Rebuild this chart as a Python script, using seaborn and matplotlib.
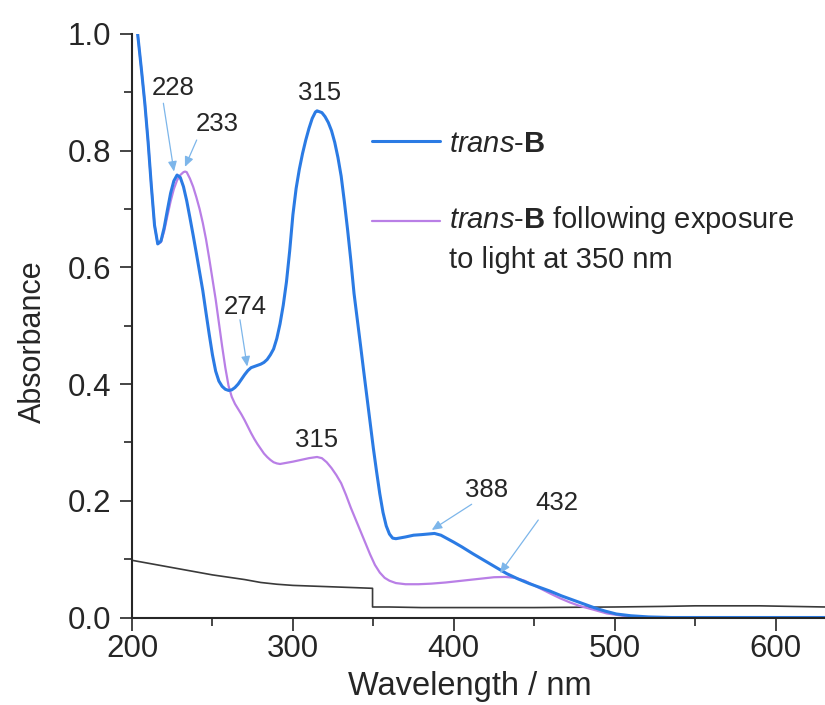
import numpy as np
import pandas as pd
import matplotlib
matplotlib.use("Agg")
import matplotlib.pyplot as plt
from matplotlib.ticker import MultipleLocator, FormatStrFormatter
from matplotlib.legend_handler import HandlerLine2D
import seaborn as sns

# ---- spectra (wavelength in nm, absorbance) ----
trans_wl = [203.5, 206, 208, 210, 212, 214, 216, 218, 220, 222, 224, 226, 228, 230, 232, 234,
            236, 238, 240, 242, 244, 246, 248, 250, 252, 254, 256, 258, 260, 262, 264, 266,
            268, 270, 272, 274, 276, 278, 280, 282, 284, 286, 288, 290, 292, 294, 296, 298,
            300, 302, 304, 306, 308, 310, 312, 314, 315, 316, 318, 320, 322, 324, 326, 328,
            330, 332, 334, 336, 338, 340, 342, 344, 346, 348, 350, 352, 354, 356, 358, 360,
            362, 364, 366, 370, 375, 380, 384, 388, 392, 396, 400, 405, 412, 420, 428, 433,
            440, 447, 453, 460, 467, 474, 480, 487, 494, 501, 510, 521, 535, 560, 600, 631]
trans_abs = [1.000, 0.935, 0.880, 0.815, 0.740, 0.672, 0.640, 0.645, 0.668, 0.698, 0.727, 0.748,
             0.758, 0.754, 0.738, 0.714, 0.685, 0.655, 0.624, 0.592, 0.560, 0.522, 0.485, 0.450,
             0.422, 0.405, 0.396, 0.391, 0.389, 0.390, 0.394, 0.400, 0.408, 0.416, 0.423, 0.428,
             0.430, 0.432, 0.434, 0.437, 0.442, 0.450, 0.460, 0.478, 0.503, 0.535, 0.575, 0.628,
             0.690, 0.735, 0.768, 0.795, 0.818, 0.838, 0.855, 0.866, 0.868, 0.867, 0.865, 0.858,
             0.848, 0.834, 0.814, 0.788, 0.756, 0.712, 0.664, 0.612, 0.555, 0.511, 0.467, 0.422,
             0.378, 0.334, 0.290, 0.250, 0.212, 0.180, 0.157, 0.143, 0.136, 0.135, 0.136, 0.138,
             0.141, 0.142, 0.143, 0.144, 0.141, 0.135, 0.129, 0.121, 0.109, 0.096, 0.083, 0.075,
             0.066, 0.058, 0.052, 0.045, 0.037, 0.030, 0.024, 0.017, 0.011, 0.006, 0.003, 0.001,
             0.000, 0.000, 0.000, 0.000]

irr_wl = [203.5, 206, 208, 210, 212, 214, 216, 218, 220, 222, 224, 226, 228, 230, 232, 233,
          234, 236, 238, 240, 242, 244, 246, 248, 250, 252, 254, 256, 258, 260, 262, 264,
          266, 268, 270, 272, 274, 276, 278, 280, 282, 284, 286, 288, 290, 292, 294, 296,
          300, 305, 310, 315, 318, 321, 324, 327, 330, 333, 336, 339, 342, 345, 348, 351,
          354, 357, 360, 364, 370, 378, 386, 395, 405, 415, 425, 432, 438, 444, 450, 455,
          460, 466, 472, 478, 486, 495, 505, 520, 560, 631]
irr_abs = [1.000, 0.935, 0.880, 0.815, 0.740, 0.672, 0.640, 0.643, 0.662, 0.688, 0.713, 0.734,
           0.749, 0.758, 0.763, 0.764, 0.763, 0.752, 0.738, 0.720, 0.700, 0.676, 0.648, 0.615,
           0.580, 0.545, 0.505, 0.465, 0.428, 0.397, 0.378, 0.366, 0.357, 0.348, 0.338, 0.327,
           0.316, 0.306, 0.297, 0.289, 0.281, 0.275, 0.270, 0.266, 0.264, 0.263, 0.264, 0.265,
           0.267, 0.270, 0.273, 0.275, 0.273, 0.266, 0.256, 0.244, 0.230, 0.210, 0.188, 0.168,
           0.148, 0.128, 0.108, 0.090, 0.077, 0.068, 0.063, 0.059, 0.057, 0.057, 0.058, 0.060,
           0.063, 0.066, 0.069, 0.0695, 0.068, 0.063, 0.055, 0.048, 0.041, 0.033, 0.026, 0.020,
           0.014, 0.007, 0.003, 0.000, 0.000, 0.000]

blank_wl = [200, 210, 220, 230, 240, 250, 260, 270, 280, 290, 300, 310, 320, 330, 340, 349.5,
            349.5, 360, 380, 400, 450, 500, 530, 550, 570, 590, 610, 631]
blank_abs = [0.098, 0.093, 0.088, 0.083, 0.078, 0.073, 0.069, 0.065, 0.060, 0.057, 0.055, 0.054,
             0.053, 0.052, 0.051, 0.050, 0.018, 0.018, 0.017, 0.017, 0.017, 0.018, 0.019, 0.020,
             0.020, 0.020, 0.019, 0.018]

trans_peaks = [228, 274, 315, 388]
irr_peaks = [233, 315, 432]

legend_labels = [r"$\mathit{trans}$-$\mathbf{B}$",
                 r"$\mathit{trans}$-$\mathbf{B}$ following exposure" + "\nto light at 350 nm"]

BLUE = "#2b7be4"
PURPLE = "#b97fe6"
GREY = "#3a3a3a"
ARROW = "#7db6ea"
INK = "#262626"

sns.set_style("ticks")
plt.rcParams["font.family"] = ["Liberation Sans", "DejaVu Sans"]
plt.rcParams["mathtext.fontset"] = "custom"
plt.rcParams["mathtext.rm"] = "Liberation Sans"
plt.rcParams["mathtext.it"] = "Liberation Sans:italic"
plt.rcParams["mathtext.bf"] = "Liberation Sans:bold"

fig = plt.figure(figsize=(8.25, 7.05), dpi=100)
ax = fig.add_axes([132 / 825, 87.5 / 705, 693 / 825, 583.7 / 705])

blank = pd.DataFrame({"wl": blank_wl, "A": blank_abs})
trans = pd.DataFrame({"wl": trans_wl, "A": trans_abs})
irr = pd.DataFrame({"wl": irr_wl, "A": irr_abs})

sns.lineplot(data=blank, x="wl", y="A", ax=ax, color=GREY, lw=1.2,
             estimator=None, sort=False)
sns.lineplot(data=irr, x="wl", y="A", ax=ax, color=PURPLE, lw=1.6,
             estimator=None, sort=False)
sns.lineplot(data=trans, x="wl", y="A", ax=ax, color=BLUE, lw=2.2,
             estimator=None, sort=False)
line_irr, line_trans = ax.get_lines()[1], ax.get_lines()[2]

ax.set_xlim(200, 630.7)
ax.set_ylim(0, 1.0)
ax.xaxis.set_major_locator(MultipleLocator(100))
ax.xaxis.set_minor_locator(MultipleLocator(50))
ax.yaxis.set_major_locator(MultipleLocator(0.2))
ax.yaxis.set_minor_locator(MultipleLocator(0.1))
ax.yaxis.set_major_formatter(FormatStrFormatter("%.1f"))

for side in ("top", "right"):
    ax.spines[side].set_visible(False)
for side in ("left", "bottom"):
    ax.spines[side].set_linewidth(1.5)
    ax.spines[side].set_color(INK)

ax.tick_params(which="both", direction="out", color=INK, width=1.2,
               labelcolor=INK, labelsize=22.5)
ax.tick_params(which="major", length=9)
ax.tick_params(which="minor", length=5.5)
ax.tick_params(axis="x", which="major", pad=3)
ax.tick_params(axis="y", which="major", pad=6)

ax.set_xlabel("Wavelength / nm", fontsize=23.5, color=INK)
ax.set_ylabel("Absorbance", fontsize=22, color=INK)
ax.xaxis.set_label_coords(0.487, -0.091)
ax.yaxis.set_label_coords(-0.122, 0.472)


def peak_value(wl, vals, at):
    return float(np.interp(at, wl, vals))


# peak labels: (wavelength, series, text position, arrow tail, arrow head offset)
label_layout = [
    (trans_peaks[0], "trans", (225.3, 0.907), (219.5, 0.881), (-1.9, 0.006)),
    (irr_peaks[0], "irr", (253.0, 0.845), (240.2, 0.818), (-0.1, 0.008)),
    (trans_peaks[1], "trans", (270.2, 0.532), (267.1, 0.510), (-2.4, 0.002)),
    (trans_peaks[2], "trans", (316.8, 0.898), None, None),
    (irr_peaks[1], "irr", (314.8, 0.304), None, None),
    (trans_peaks[3], "trans", (420.4, 0.218), (411.1, 0.194), (-1.7, 0.006)),
    (irr_peaks[2], "irr", (463.9, 0.196), (452.5, 0.167), (-3.3, 0.0065)),
]
series = {"trans": (trans_wl, trans_abs), "irr": (irr_wl, irr_abs)}

for wl, key, txt_xy, tail, head_off in label_layout:
    ax.text(txt_xy[0], txt_xy[1], f"{wl}", fontsize=18.5, color=INK,
            ha="center", va="center")
    if tail is not None:
        xs, ys = series[key]
        head = (wl + head_off[0], peak_value(xs, ys, wl) + head_off[1])
        ax.annotate("", xy=head, xytext=tail,
                    arrowprops=dict(arrowstyle="-|>,head_length=0.5,head_width=0.22",
                                    color=ARROW, lw=0.9, mutation_scale=12,
                                    shrinkA=0, shrinkB=0))


class RaisedLineHandler(HandlerLine2D):
    """Line handle lifted to sit beside the first line of a two-line label."""

    def __init__(self, lift=0.0, **kw):
        super().__init__(**kw)
        self.lift = lift

    def create_artists(self, legend, orig_handle, xdescent, ydescent, width,
                       height, fontsize, trans):
        artists = super().create_artists(legend, orig_handle, xdescent, ydescent,
                                         width, height, fontsize, trans)
        for a in artists:
            a.set_ydata(np.asarray(a.get_ydata(), dtype=float) + self.lift * fontsize)
        return artists


leg = ax.legend([line_trans, line_irr], legend_labels, loc="upper left",
                bbox_to_anchor=(0.346, 0.836), frameon=False, fontsize=21,
                handlelength=2.33, handletextpad=0.31, labelspacing=1.6,
                borderpad=0, borderaxespad=0,
                handler_map={line_irr: RaisedLineHandler(lift=0.65)})
for t in leg.get_texts():
    t.set_color(INK)
    t.set_linespacing(1.45)

fig.savefig("out.png", dpi=100)
